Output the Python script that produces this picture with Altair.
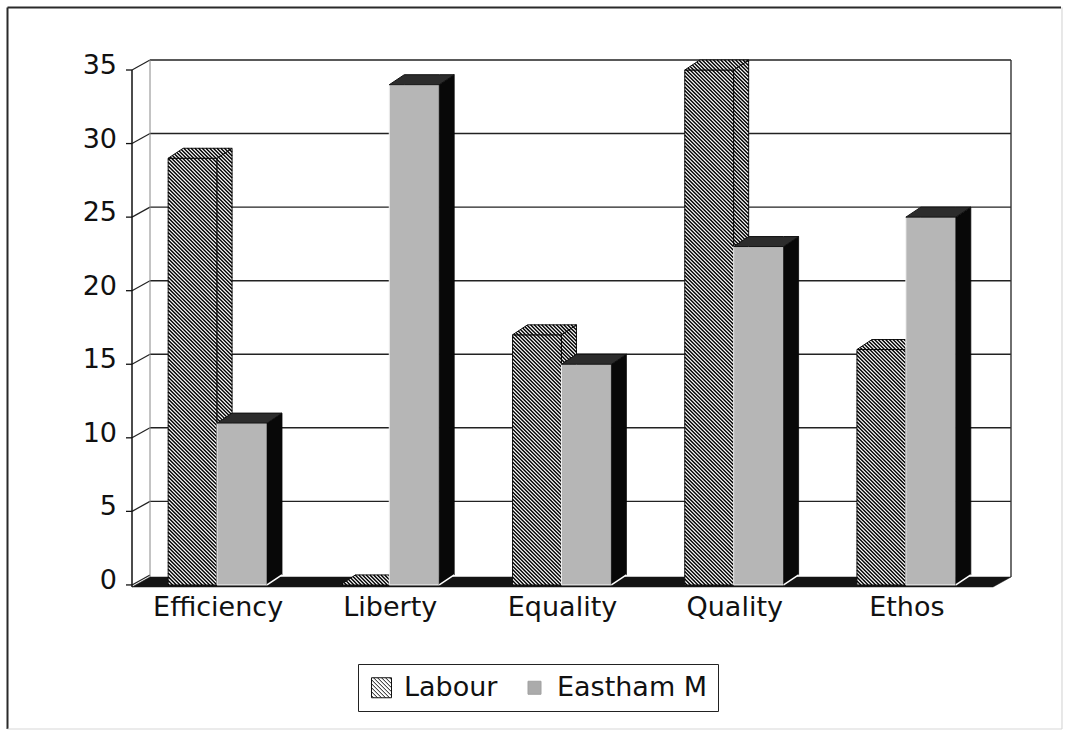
import math
import altair as alt
import pandas as pd

# ---- values -------------------------------------------------------------
categories = ["Efficiency", "Liberty", "Equality", "Quality", "Ethos"]
series = ["Labour", "Eastham M"]
labour = [29, 0, 17, 35, 16]
eastham = [11, 34, 15, 23, 25]
y_ticks = [0, 5, 10, 15, 20, 25, 30, 35]

# ---- 3-D box geometry ---------------------------------------------------
PLOT_W, PLOT_H = 879, 527          # plot area in pixels
BAND_PX = 172.2                    # pixel width of one category band
X_MAX = PLOT_W / BAND_PX           # x runs in category-band units
Y_MIN, Y_MAX = -0.14, 35.68
KX = BAND_PX
KY = PLOT_H / (Y_MAX - Y_MIN)
WALL_DX, WALL_DY = 18 / KX, 10 / KY   # depth of the walls
BAR_DX, BAR_DY = 15 / KX, 10 / KY     # depth of each column
SLOTS = {"Labour": (0.21, 0.494), "Eastham M": (0.494, 0.784)}
HATCH_STEP = 3.7                    # px between hatch lines

FONT = "DejaVu Sans"
FS = 27

xs = alt.Scale(domain=[0, X_MAX], nice=False, zero=False)
ys = alt.Scale(domain=[Y_MIN, Y_MAX], nice=False, zero=False)


def X(field="x", **kw):
    return alt.X(f"{field}:Q", scale=xs, axis=None, **kw)


def Y(field="y", **kw):
    return alt.Y(f"{field}:Q", scale=ys, axis=None, **kw)


def faces(i, name, v):
    x0, x1 = i + SLOTS[name][0], i + SLOTS[name][1]
    front = [(x0, 0), (x1, 0), (x1, v), (x0, v)]
    side = [(x1, 0), (x1 + BAR_DX, BAR_DY), (x1 + BAR_DX, v + BAR_DY), (x1, v)]
    top = [(x0, v), (x1, v), (x1 + BAR_DX, v + BAR_DY), (x0 + BAR_DX, v + BAR_DY)]
    return x0, x1, front, side, top


def side_rows(key, x1, v):
    return [
        {"face": key, "x": x1, "y": v, "y2": 0},
        {"face": key, "x": x1 + BAR_DX, "y": v + BAR_DY, "y2": BAR_DY},
    ]


def top_rows(key, x0, x1, v):
    return [
        {"face": key, "x": x0, "y": v, "y2": v},
        {"face": key, "x": x0 + BAR_DX, "y": v + BAR_DY, "y2": v},
        {"face": key, "x": x1, "y": v + BAR_DY, "y2": v},
        {"face": key, "x": x1 + BAR_DX, "y": v + BAR_DY, "y2": v + BAR_DY},
    ]


def hatch(poly):
    """Diagonal (top-left to bottom-right) lines clipped to a convex polygon."""
    pts = [(x * KX, v * KY) for x, v in poly]
    sums = [p[0] + p[1] for p in pts]
    out = []
    for k in range(math.ceil(min(sums) / HATCH_STEP), math.floor(max(sums) / HATCH_STEP) + 1):
        c = k * HATCH_STEP
        hits = []
        for j in range(len(pts)):
            a, b = pts[j], pts[(j + 1) % len(pts)]
            fa, fb = sums[j] - c, sums[(j + 1) % len(pts)] - c
            if fa == 0:
                hits.append(a)
            if fa * fb < 0:
                t = fa / (fa - fb)
                hits.append((a[0] + t * (b[0] - a[0]), a[1] + t * (b[1] - a[1])))
        if len(hits) >= 2:
            p = min(hits)
            q = max(hits)
            if abs(q[0] - p[0]) > 0.4:
                out.append({"x": p[0] / KX, "y": p[1] / KY, "x2": q[0] / KX, "y2": q[1] / KY})
    return out


lab_front, lab_side, lab_top, lab_hatch = [], [], [], []
ea_front, ea_side, ea_top, ea_edge = [], [], [], []
for i, cat in enumerate(categories):
    x0, x1, f, s, t = faces(i, "Labour", labour[i])
    lab_front.append({"x": x0, "x2": x1, "y": 0, "y2": labour[i]})
    lab_side += side_rows(f"L{i}", x1, labour[i])
    lab_top += top_rows(f"L{i}", x0, x1, labour[i])
    for poly in (f, s, t):
        lab_hatch += hatch(poly)

    x0, x1, f, s, t = faces(i, "Eastham M", eastham[i])
    ea_front.append({"x": x0, "x2": x1, "y": 0, "y2": eastham[i]})
    ea_side += side_rows(f"E{i}", x1, eastham[i])
    ea_top += top_rows(f"E{i}", x0, x1, eastham[i])
    ea_edge.append({"x": x1, "y": 0, "x2": x1 + BAR_DX, "y2": BAR_DY})

# ---- walls, grid and floor ---------------------------------------------
n = len(categories)
back_grid = pd.DataFrame(
    [{"x": WALL_DX, "x2": X_MAX, "y": v + WALL_DY, "y2": v + WALL_DY} for v in y_ticks[1:]]
)
side_grid = pd.DataFrame(
    [{"x": 0, "x2": WALL_DX, "y": v, "y2": v + WALL_DY} for v in y_ticks]
)
corner = pd.DataFrame([{"x": WALL_DX, "x2": WALL_DX, "y": Y_MIN + WALL_DY, "y2": Y_MAX}])
right_edge = pd.DataFrame([{"x": X_MAX, "x2": X_MAX, "y": Y_MIN + WALL_DY, "y2": Y_MAX}])
front_axis = pd.DataFrame([{"x": 0, "x2": 0, "y": Y_MIN, "y2": y_ticks[-1]}])
tick_marks = pd.DataFrame([{"x": -6 / KX, "x2": 0, "y": v, "y2": v} for v in y_ticks])
floor = pd.DataFrame([
    {"face": "floor", "x": 0, "y": Y_MIN, "y2": Y_MIN},
    {"face": "floor", "x": WALL_DX, "y": Y_MIN + WALL_DY, "y2": Y_MIN},
    {"face": "floor", "x": n, "y": Y_MIN + WALL_DY, "y2": Y_MIN},
    {"face": "floor", "x": n + WALL_DX, "y": Y_MIN + WALL_DY, "y2": Y_MIN + WALL_DY},
])

# tick labels placed through the same scales
y_labels = pd.DataFrame({"x": [-15 / KX] * len(y_ticks), "y": y_ticks,
                         "t": [str(v) for v in y_ticks]})
x_labels = pd.DataFrame({"x": [i + 0.5 for i in range(n)], "y": [Y_MIN] * n, "t": categories})


def rules(df, color, width):
    return alt.Chart(df).mark_rule(color=color, strokeWidth=width).encode(
        x=X(), x2="x2:Q", y=Y(), y2="y2:Q"
    )


def area(rows, fill, stroke, width):
    return alt.Chart(pd.DataFrame(rows)).mark_area(
        fill=fill, stroke=stroke, strokeWidth=width, interpolate="linear"
    ).encode(x=X(), y=Y(stack=None), y2="y2:Q", detail="face:N")


# outer frame around the whole figure
one = pd.DataFrame({"k": [0]})
frame = alt.layer(
    alt.Chart(one).mark_rule(color="#2a2a2a", strokeWidth=2).encode(
        x=alt.value(-124.5), x2=alt.value(929), y=alt.value(-52.5)),
    alt.Chart(one).mark_rule(color="#2a2a2a", strokeWidth=2).encode(
        x=alt.value(-124.5), y=alt.value(-52.5), y2=alt.value(669)),
    alt.Chart(one).mark_rule(color="#d8d8d8", strokeWidth=1.2).encode(
        x=alt.value(930), y=alt.value(-52.5), y2=alt.value(669)),
    alt.Chart(one).mark_rule(color="#d8d8d8", strokeWidth=1.2).encode(
        x=alt.value(-124.5), x2=alt.value(930), y=alt.value(669)),
)

y_text = alt.Chart(y_labels).mark_text(
    font=FONT, fontSize=FS, color="#111", align="right", baseline="middle", dy=-4
).encode(x=X(), y=Y(), text="t:N")
x_text = alt.Chart(x_labels).mark_text(
    font=FONT, fontSize=FS, color="#111", align="center", baseline="top", dy=8
).encode(x=X(), y=Y(), text="t:N")


# legend built from a hidden point layer
def hatch_symbol():
    parts = ["M-1,-1H1V1H-1Z"]
    c = -1.8
    while c < 2.0:
        if c >= 0:
            parts.append(f"M-1,{-1 + c:.2f}L{1 - c:.2f},1")
        else:
            parts.append(f"M{-1 - c:.2f},-1L1,{1 + c:.2f}")
        c += 0.4
    return "".join(parts)


legend = alt.Legend(
    title=None, orient="none", legendX=226, legendY=604,
    direction="horizontal", columns=2,
    labelFont=FONT, labelFontSize=FS, labelColor="#111", labelLimit=400,
    symbolSize=400, symbolStrokeWidth=1, symbolOpacity=1,
    labelOffset=9, columnPadding=23, padding=10,
    strokeColor="#222",
)
legend_layer = alt.Chart(pd.DataFrame({"series": series, "x": [0.5, 0.5], "y": [10, 10]})).mark_point(
    filled=True, opacity=0
).encode(
    x=X(), y=Y(),
    fill=alt.Fill("series:N", scale=alt.Scale(domain=series, range=["#ffffff", "#ababab"]), legend=legend),
    stroke=alt.Stroke("series:N", scale=alt.Scale(domain=series, range=["#111111", "#a0a0a0"]), legend=legend),
    shape=alt.Shape("series:N", scale=alt.Scale(domain=series, range=[hatch_symbol(), "M-0.65,-0.65H0.65V0.65H-0.65Z"]), legend=legend),
)

chart = alt.layer(
    frame,
    rules(back_grid, "#222", 1.4),
    rules(side_grid, "#222", 1.2),
    rules(corner, "#888", 1),
    rules(right_edge, "#333", 1.4),
    area(floor.to_dict("records"), "#141414", "#141414", 0.5),
    # Labour columns: white faces with dense diagonal hatching
    alt.Chart(pd.DataFrame(lab_front)).mark_rect(fill="white", stroke="#111", strokeWidth=1).encode(
        x=X(), x2="x2:Q", y=Y(), y2="y2:Q"),
    area(lab_side, "white", "#111", 1),
    area(lab_top, "white", "#111", 1),
    rules(pd.DataFrame(lab_hatch), "#000", 1.45),
    # Eastham M columns: grey front, dark top, black side
    alt.Chart(pd.DataFrame(ea_front)).mark_rect(fill="#b6b6b6", stroke="#f2f2f2", strokeWidth=1).encode(
        x=X(), x2="x2:Q", y=Y(), y2="y2:Q"),
    area(ea_side, "#080808", "#080808", 0.8),
    area(ea_top, "#2c2c2c", "#111", 1),
    rules(pd.DataFrame(ea_edge), "white", 1.5),
    rules(front_axis, "#111", 1.5),
    rules(tick_marks, "#111", 1.3),
    y_text,
    x_text,
    legend_layer,
).properties(
    width=PLOT_W, height=PLOT_H,
    autosize=alt.AutoSizeParams(type="none"),
    padding={"left": 132, "top": 60, "right": 54, "bottom": 145},
    background="white",
).configure_view(strokeWidth=0)

chart.save("out.html", embed_options={"renderer": "svg", "actions": False})
